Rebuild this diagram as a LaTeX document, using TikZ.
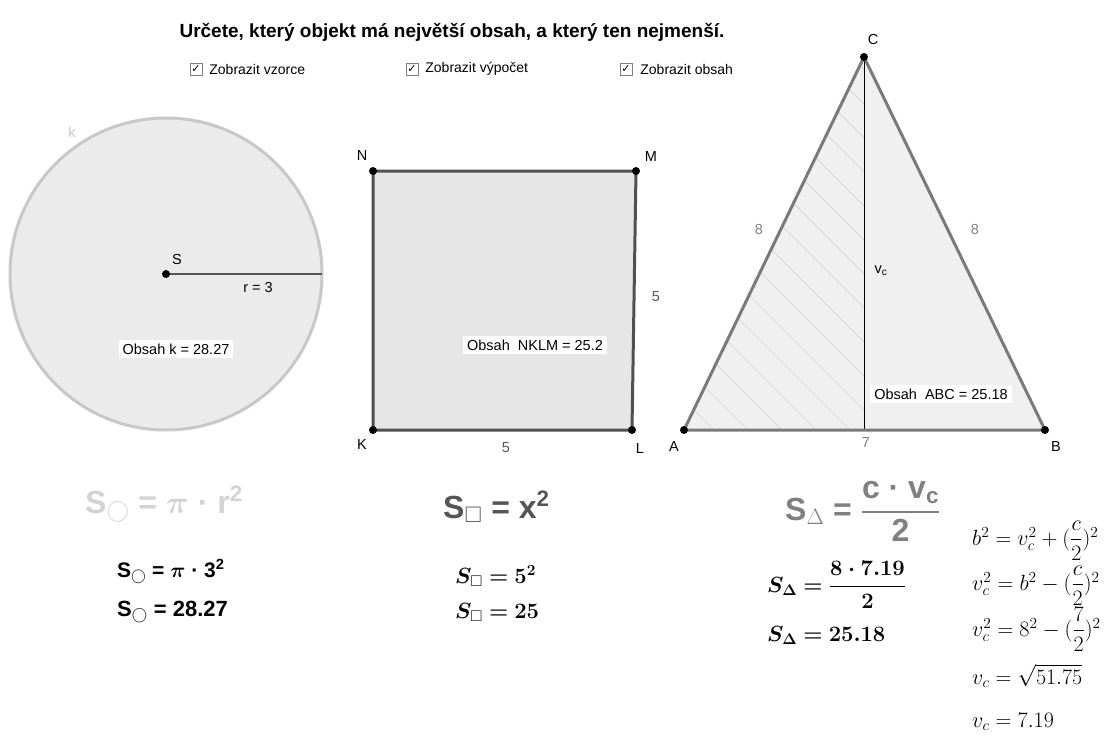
\documentclass[tikz,border=0pt]{standalone}
\usepackage{fix-cm}
\usepackage{amsmath,amssymb,bm}
\usepackage[no-math]{fontspec}
\setmainfont{Liberation Sans}
\newfontfamily\symfont{DejaVu Sans}
\usetikzlibrary{positioning}

\definecolor{kruhfill}{HTML}{EBEBEB}
\definecolor{kruhline}{HTML}{C8C8C8}
\definecolor{ctvfill}{HTML}{E6E6E6}
\definecolor{ctvline}{HTML}{505050}
\definecolor{trifill}{HTML}{F0F0F0}
\definecolor{triline}{HTML}{7A7A7A}
\definecolor{srafcol}{HTML}{D2D2D2}
\definecolor{vzK}{HTML}{D3D3D3}
\definecolor{vzC}{HTML}{555555}
\definecolor{vzT}{HTML}{808080}

\tikzset{
  bod/.style={circle, fill=black, inner sep=0pt, minimum size=8pt},
  popis/.style={font=\fontsize{14.5}{17}\selectfont, inner sep=1pt},
  obsahbox/.style={fill=white, inner sep=4pt, font=\fontsize{14.5}{17}\selectfont},
  volba/.style={font=\fontsize{14}{17}\selectfont, inner sep=1pt},
  zatrz/.style={draw=gray, fill=white, inner sep=0pt, minimum size=12pt,
    font=\symfont\fontsize{11}{11}\selectfont},
  vzorec/.style={font=\fontsize{32}{36}\selectfont\bfseries, inner sep=0pt, anchor=base west},
  vypocet/.style={font=\fontsize{22}{26}\selectfont, inner sep=0pt, anchor=base west},
}

\begin{document}
\begin{tikzpicture}[x=1pt, y=-1pt]
  \useasboundingbox (0,0) rectangle (1117,736);

  % Zadani
  \node[font=\fontsize{19}{22}\selectfont\bfseries, anchor=base] (zadani) at (452,37)
    {Určete, který objekt má největší obsah, a který ten nejmenší.};

  % Zatrzitka
  \node[zatrz] (ch1) at (196,69) {✓};
  \node[volba, right=6pt of ch1] (v1) {Zobrazit vzorce};
  \node[zatrz] (ch2) at (412,69) {✓};
  \node[volba, right=6pt of ch2] (v2) {Zobrazit výpočet};
  \node[zatrz] (ch3) at (626,69) {✓};
  \node[volba, right=7pt of ch3] (v3) {Zobrazit obsah};

  % Kruh k
  \coordinate (S) at (166,274);
  \coordinate (R) at (322,274);
  \draw[kruhline, line width=3pt, fill=kruhfill] (S) circle[radius=156];
  \draw[vzC, line width=1.5pt] (S) -- (R);
  \node[bod] (dS) at (S) {};
  \node[popis] (lS) at (177,260) {S};
  \node[popis, kruhline] (lk) at (72,132) {k};
  \node[popis] (lr) at (258,288) {r = 3};
  \node[obsahbox] (obsK) at (176,349) {Obsah k = 28.27};

  % Ctverec NKLM
  \coordinate (K) at (373,430);
  \coordinate (L) at (632,430);
  \coordinate (M) at (636,171);
  \coordinate (N) at (373,171);
  \draw[ctvline, line width=3pt, fill=ctvfill, line join=round] (K) -- (L) -- (M) -- (N) -- cycle;
  \foreach \p in {K,L,M,N}
    \node[bod] (d\p) at (\p) {};
  \node[popis] (lN) at (362,156) {N};
  \node[popis] (lM) at (651,157) {M};
  \node[popis] (lK) at (362,445) {K};
  \node[popis] (lL) at (640,449) {L};
  \node[popis, vzC] (lKL) at (506,448) {5};
  \node[popis, vzC] (lLM) at (656,297) {5};
  \node[obsahbox] (obsC) at (535,345) {Obsah\ \ NKLM = 25.2};

  % Trojuhelnik ABC
  \coordinate (A) at (684,430);
  \coordinate (B) at (1045,430);
  \coordinate (C) at (864,57);
  \coordinate (P) at (864,430);
  \fill[trifill] (A) -- (B) -- (C) -- cycle;
  \begin{scope}
    \clip (A) -- (P) -- (C) -- cycle;
    \foreach \c in {250,284,...,830}
      \draw[srafcol, line width=0.7pt] (\c,0) -- ++(500,500);
  \end{scope}
  \draw[black, line width=1pt] (C) -- (P);
  \draw[triline, line width=3pt, line join=round] (A) -- (B) -- (C) -- cycle;
  \foreach \p in {A,B,C}
    \node[bod] (d\p) at (\p) {};
  \node[popis] (lC) at (873,40) {C};
  \node[popis] (lA) at (674,447) {A};
  \node[popis] (lB) at (1056,447) {B};
  \node[popis, vzT] (lAC) at (759,230) {8};
  \node[popis, vzT] (lBC) at (975,230) {8};
  \node[popis, vzT] (lAB) at (866,443) {7};
  \node[popis] (lvc) at (881,271) {v\textsubscript{c}};
  \node[obsahbox] (obsT) at (941,394) {Obsah\ \ ABC = 25.18};

  % Vzorce
  \node[vzorec, vzK] (vzorK) at (85,513)
    {S$_{\bigcirc}$ = $\bm{\pi}$ · r\textsuperscript{2}};
  \node[vzorec, vzC] (vzorC) at (443,518) {S$_{\square}$ = x\textsuperscript{2}};
  \node[vzorec, vzT] (vzorT) at (785,520)
    {S$_{\Delta}$ = $\dfrac{\text{c · v\textsubscript{c}}}{\text{2}}$};

  % Vypocty
  \node[vzorec, font=\fontsize{21}{25}\selectfont\bfseries] (vyK1) at (117,577)
    {S$_{\bigcirc}$ = $\bm{\pi}$ · 3\textsuperscript{2}};
  \node[vzorec, font=\fontsize{22}{26}\selectfont\bfseries] (vyK2) at (117,616)
    {S$_{\bigcirc}$ = 28.27};
  \node[vypocet] (vyC1) at (455,583) {$\bm{S_{\square} = 5^{2}}$};
  \node[vypocet] (vyC2) at (455,618) {$\bm{S_{\square} = 25}$};
  \node[vypocet] (vyT1) at (767,592) {$\bm{S_{\Delta} = \dfrac{8\cdot 7.19}{2}}$};
  \node[vypocet] (vyT2) at (767,641) {$\bm{S_{\Delta} = 25.18}$};

  % Vyska v_c
  \node[vypocet] (vc1) at (972,545) {$b^2 = v_c^2 + (\dfrac{c}{2})^2$};
  \node[vypocet] (vc2) at (972,590) {$v_c^2 = b^2 - (\dfrac{c}{2})^2$};
  \node[vypocet] (vc3) at (972,636) {$v_c^2 = 8^2 - (\dfrac{7}{2})^2$};
  \node[vypocet] (vc4) at (972,684) {$v_c = \sqrt{51.75}$};
  \node[vypocet] (vc5) at (972,727) {$v_c = 7.19$};
\end{tikzpicture}
\end{document}
